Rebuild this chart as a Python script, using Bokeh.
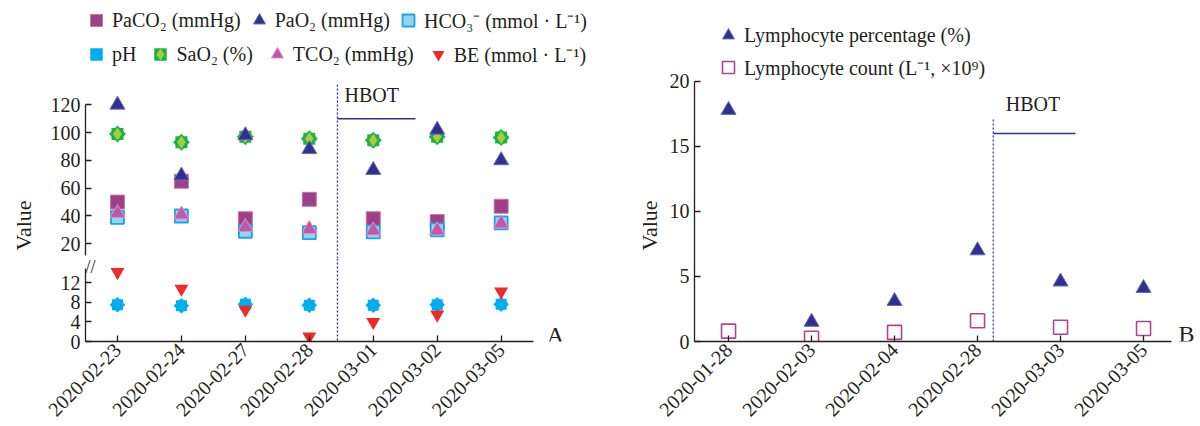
import math
from bokeh.plotting import figure
from bokeh.models import Span, Label, Legend, LegendItem, FixedTicker, Range1d, Title
from bokeh.layouts import row, column
from bokeh.embed import file_html
from bokeh.resources import INLINE

# ---------------- data ----------------
dates_a = ["2020-02-23", "2020-02-24", "2020-02-27", "2020-02-28",
           "2020-03-01", "2020-03-02", "2020-03-05"]
paco2 = [50, 65, 38, 52, 38, 36, 47]
pao2 = [120, 69, 98, 88, 73, 102, 80]
hco3 = [39, 40, 29, 28, 28.5, 30, 35]
tco2 = [42, 41, 32, 30.5, 29.5, 29.5, 34.5]
sao2 = [99, 93, 97, 95.5, 94.5, 97, 96.5]
ph = [7.5, 7.3, 7.6, 7.4, 7.4, 7.5, 7.6]
be = [14.2, 10.8, 6.5, 1.0, 4.0, 5.5, 10.2]

dates_b = ["2020-01-28", "2020-02-03", "2020-02-04", "2020-02-28",
           "2020-03-03", "2020-03-05"]
lym_pct = [17.8, 1.5, 3.1, 7.0, 4.6, 4.1]
lym_cnt = [0.8, 0.25, 0.7, 1.6, 1.1, 1.0]

upper_ticks = [20, 40, 60, 80, 100, 120]
lower_ticks = [0, 4, 8, 12]
b_ticks = [0, 5, 10, 15, 20]

# HBOT annotation positions (category-index units / value units)
hbot_a_x, hbot_a_end, hbot_a_y, hbot_a_top = 3.44, 4.66, 110, 135.3
hbot_b_x, hbot_b_end, hbot_b_y, hbot_b_top = 3.19, 4.18, 16, 17.2

FONT = "Liberation Serif"
TXT = "#231F20"
NAVY = "#2E3192"

xa = list(range(len(dates_a)))
xb = list(range(len(dates_b)))

LOW_RANGE = Range1d(0, 16.97)            # lower segment of the broken axis
LOW_ABOVE = Range1d(16.97, 69.1)         # same scale continued above the break


def style(p):
    p.grid.visible = False
    p.outline_line_color = None
    for ax in p.axis:
        ax.axis_line_color = TXT
        ax.axis_line_width = 1.3
        ax.major_tick_line_color = TXT
        ax.major_tick_line_width = 1.3
        ax.major_tick_in = 6
        ax.major_tick_out = 0
        ax.minor_tick_line_color = None
        ax.major_label_text_font = FONT
        ax.major_label_text_font_size = "20px"
        ax.major_label_text_color = TXT
        ax.major_label_standoff = 5


def txt_label(p, x, y, text, size="20px", angle=0.0, align="left", baseline="middle"):
    p.add_layout(Label(x=x, y=y, text=text, text_font=FONT, text_font_size=size,
                       text_color=TXT, angle=angle, text_align=align,
                       text_baseline=baseline))


def side_title(p, text, offset, standoff):
    p.add_layout(Title(text=text, align="left", vertical_align="top", offset=offset,
                       text_font=FONT, text_font_size="22px", text_font_style="normal",
                       text_color=TXT, standoff=standoff), "left")


def ph_marks(p, **kw):
    a = p.scatter(xa, ph, marker="square", size=11, fill_color="#00AEEF",
                  line_color=None, **kw)
    b = p.scatter(xa, ph, marker="square", size=11, angle=math.pi / 4,
                  fill_color="#00AEEF", line_color=None, **kw)
    return [a, b]


def be_marks(p, **kw):
    return [p.scatter(xa, be, marker="inverted_triangle", size=14,
                      fill_color="#EE2A2A", line_color=None, **kw)]


# ---------------- panel A : upper segment ----------------
XA_RANGE = Range1d(-0.5, 7.71)
pa_top = figure(width=612, height=258, x_range=XA_RANGE,
                y_range=Range1d(9.4, 192.9), output_backend="svg",
                toolbar_location=None, min_border_left=77, min_border_right=2,
                min_border_top=3, min_border_bottom=0)
pa_top.extra_y_ranges = {"low": LOW_ABOVE}
r_paco2 = pa_top.scatter(xa, paco2, marker="square", size=14, fill_color="#9E3F87",
                         line_color="#C07AAE", line_width=1)
r_hco3 = pa_top.scatter(xa, hco3, marker="square", size=13, fill_color="#8FD6F4",
                        line_color="#1CA3E3", line_width=1.8)
r_tco2 = pa_top.scatter(xa, tco2, marker="triangle", size=15, fill_color="#C456A6",
                        line_color="#D990C6", line_width=1)
r_sao2a = pa_top.scatter(xa, sao2, marker="square", size=12, fill_color="#1DB04B",
                         line_color=None)
r_sao2b = pa_top.scatter(xa, sao2, marker="square", size=12, angle=math.pi / 4,
                         fill_color="#1DB04B", line_color=None)
r_sao2c = pa_top.scatter(xa, sao2, marker="diamond", size=13, fill_color="#A6CE39",
                         line_color=None)
r_pao2 = pa_top.scatter(xa, pao2, marker="triangle", size=15, fill_color=NAVY,
                        line_color="#6A6CB0", line_width=1)
# pH and BE on the lower scale: they fall below this segment (not visible here)
r_ph_top = ph_marks(pa_top, y_range_name="low")
r_be_top = be_marks(pa_top, y_range_name="low")

style(pa_top)
pa_top.xaxis.visible = False
pa_top.yaxis.ticker = FixedTicker(ticks=upper_ticks)
pa_top.yaxis.bounds = (11.6, 120)
pa_top.segment(x0=[hbot_a_x], y0=[pa_top.y_range.start], x1=[hbot_a_x], y1=[hbot_a_top],
               line_color=NAVY, line_dash="2 2", line_width=1.3)
pa_top.segment(x0=[hbot_a_x], y0=[hbot_a_y], x1=[hbot_a_end], y1=[hbot_a_y],
               line_color=NAVY, line_width=1.5)
txt_label(pa_top, 3.55, 126.7, "HBOT")
side_title(pa_top, "Value", 8, 20)

leg_common = dict(label_text_font=FONT, label_text_font_size="20px",
                  label_text_color=TXT, glyph_width=30, glyph_height=30,
                  label_height=30, label_standoff=1, padding=0, margin=0,
                  border_line_color=None, background_fill_alpha=0,
                  inactive_fill_alpha=0, orientation="horizontal")
leg1 = Legend(items=[LegendItem(label="PaCO₂ (mmHg)", renderers=[r_paco2]),
                     LegendItem(label="PaO₂ (mmHg)", renderers=[r_pao2]),
                     LegendItem(label="HCO₃⁻ (mmol · L⁻¹)", renderers=[r_hco3])],
              location=(-4, 223), spacing=3, **leg_common)
leg2 = Legend(items=[LegendItem(label="pH", renderers=r_ph_top),
                     LegendItem(label="SaO₂ (%)", renderers=[r_sao2a, r_sao2b, r_sao2c]),
                     LegendItem(label="TCO₂ (mmHg)", renderers=[r_tco2]),
                     LegendItem(label="BE (mmol · L⁻¹)", renderers=r_be_top)],
              location=(-4, 189), spacing=9, **leg_common)
pa_top.add_layout(leg1)
pa_top.add_layout(leg2)

# ---------------- panel A : lower segment ----------------
pa_bot = figure(width=612, height=168, x_range=XA_RANGE,
                y_range=LOW_RANGE, output_backend="svg",
                toolbar_location=None, min_border_left=77, min_border_right=2,
                min_border_top=0, min_border_bottom=85)
ph_marks(pa_bot)
be_marks(pa_bot)
style(pa_bot)
pa_bot.yaxis.ticker = FixedTicker(ticks=lower_ticks)
pa_bot.yaxis.bounds = (0, 14.9)
pa_bot.xaxis.ticker = FixedTicker(ticks=xa)
pa_bot.xaxis.bounds = (-0.5, 6.5)
pa_bot.xaxis.major_label_overrides = {i: d for i, d in zip(xa, dates_a)}
pa_bot.xaxis.major_label_orientation = math.pi / 4
pa_bot.add_layout(Span(location=hbot_a_x, dimension="height", line_color=NAVY,
                       line_dash="2 2", line_width=1.3))
txt_label(pa_bot, -0.42, 15.2, "//", size="18px", align="center")
txt_label(pa_bot, 6.85, 1.4, "A", size="24px", align="center")

left = column(pa_top, pa_bot, spacing=0)

# ---------------- panel B ----------------
pb = figure(width=588, height=426, x_range=Range1d(-0.41, 5.626),
            y_range=Range1d(0, 25.46), output_backend="svg", toolbar_location=None,
            min_border_left=82, min_border_right=5, min_border_top=10,
            min_border_bottom=85)
r_pct = pb.scatter(xb, lym_pct, marker="triangle", size=15, fill_color=NAVY,
                   line_color="#6A6CB0", line_width=1)
r_cnt = pb.scatter(xb, lym_cnt, marker="square", size=14, fill_color=None,
                   line_color="#B0458E", line_width=1.6)
style(pb)
pb.yaxis.ticker = FixedTicker(ticks=b_ticks)
pb.yaxis.bounds = (0, 20)
pb.xaxis.ticker = FixedTicker(ticks=xb)
pb.xaxis.bounds = (-0.41, 5.34)
pb.xaxis.major_label_overrides = {i: d for i, d in zip(xb, dates_b)}
pb.xaxis.major_label_orientation = math.pi / 4
pb.segment(x0=[hbot_b_x], y0=[0], x1=[hbot_b_x], y1=[hbot_b_top],
           line_color=NAVY, line_dash="2 2", line_width=1.3)
pb.segment(x0=[hbot_b_x], y0=[hbot_b_y], x1=[hbot_b_end], y1=[hbot_b_y],
           line_color=NAVY, line_width=1.5)
txt_label(pb, 3.34, 18.3, "HBOT")
txt_label(pb, 5.518, 0.54, "B", size="24px", align="center")
side_title(pb, "Value", 91, 6)
legb_common = dict(leg_common)
legb_common["orientation"] = "vertical"
legb = Legend(items=[LegendItem(label="Lymphocyte percentage (%)", renderers=[r_pct]),
                     LegendItem(label="Lymphocyte count (L⁻¹, ×10⁹)", renderers=[r_cnt])],
              location=(19, 259), spacing=2, **legb_common)
pb.add_layout(legb)

layout = row(left, pb, spacing=0)
open("out.html", "w").write(file_html(layout, INLINE))
